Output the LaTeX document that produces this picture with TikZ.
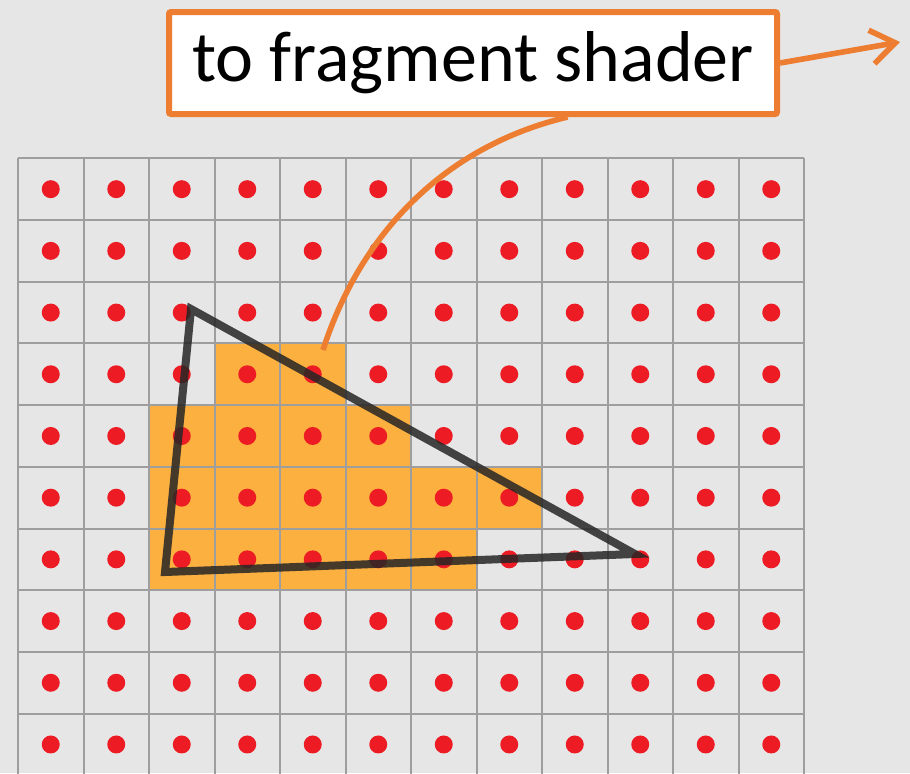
\documentclass[tikz,border=0pt]{standalone}
\usepackage{fontspec}
\setmainfont{Carlito}
\usepackage{tikz}
\usetikzlibrary{arrows.meta, calc, positioning}

\definecolor{bggray}{HTML}{E6E6E6}
\definecolor{linegray}{HTML}{9E9E9E}
\definecolor{dotred}{HTML}{ED1C24}
\definecolor{fragorange}{HTML}{FBB040}
\definecolor{calloutorange}{HTML}{ED7D31}

% Rejilla (en pixeles de la imagen)
\newcommand{\gridx}{18}
\newcommand{\gridy}{158.3}
\newcommand{\cellw}{65.5}
\newcommand{\cellh}{61.7}

\tikzset{
  pixelline/.style={draw=linegray, line width=1pt},
  covered/.style={fill=fragorange},
  sample/.style={fill=dotred},
  tri/.style={draw=black!85, draw opacity=0.85, line width=4pt, line join=miter},
  callout/.style={rectangle, draw=calloutorange, fill=white, line width=3pt, rounded corners=1pt, minimum width=304pt, minimum height=51pt, inner sep=0pt, font=\fontsize{36}{43}\selectfont},
  link/.style={draw=calloutorange, line width=2.8pt},
  arrow/.style={link, -{Straight Barb[length=12pt,width=17pt]}}
}

\begin{document}
\begin{tikzpicture}[x=0.5pt, y=-0.5pt]

    % 1. Fondo
    \useasboundingbox (0,0) rectangle (910,773);
    \fill[bggray] (0,0) rectangle (910,773);

    % 2. Fragmentos cubiertos (fila / primera columna / ultima columna)
    \foreach \r/\a/\b in {3/3/4, 4/2/5, 5/2/7, 6/2/6} {
        \fill[covered] (\gridx+\a*\cellw, \gridy+\r*\cellh) rectangle (\gridx+\b*\cellw+\cellw, \gridy+\r*\cellh+\cellh);
    }

    % 3. Rejilla de pixeles
    \foreach \c in {0,...,12}
        \draw[pixelline] (\gridx+\c*\cellw, \gridy) -- (\gridx+\c*\cellw, 800);
    \foreach \r in {0,...,10}
        \draw[pixelline] (\gridx, \gridy+\r*\cellh) -- (\gridx+12*\cellw, \gridy+\r*\cellh);

    % 4. Centros de muestreo
    \foreach \c in {0,...,11}
        \foreach \r in {0,...,9}
            \fill[sample] (\gridx+\c*\cellw+0.5*\cellw, \gridy+\r*\cellh+0.5*\cellh) circle[radius=4.5pt];

    % 5. Triangulo
    \coordinate (v1) at (191,309);
    \coordinate (v2) at (165,572);
    \coordinate (v3) at (635,554);
    \draw[tri] (v1) -- (v2) -- (v3) -- cycle;

    % 6. Etiqueta y conexiones
    \node[callout] (label) at (473,63) {to fragment shader};
    \coordinate (frag) at (323,350);
    \coordinate (out) at (900,42);
    \draw[link] (frag) .. controls (355,250) and (430,150) .. ($(label.south west)!0.654!(label.south east)$);
    \draw[arrow] (label.east) -- (out);

\end{tikzpicture}
\end{document}
